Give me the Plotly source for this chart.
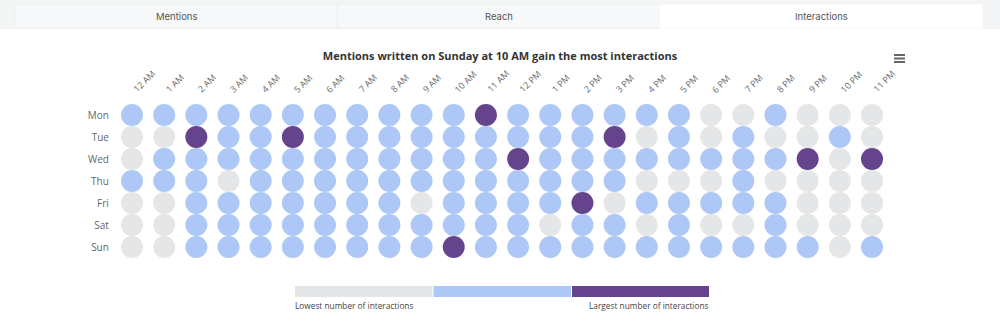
import plotly.graph_objects as go

# Heat-dot grid: interaction level per weekday and hour (0 = low, 1 = mid, 2 = high)
days = ["Mon", "Tue", "Wed", "Thu", "Fri", "Sat", "Sun"]
hours = ["12 AM", "1 AM", "2 AM", "3 AM", "4 AM", "5 AM", "6 AM", "7 AM", "8 AM",
         "9 AM", "10 AM", "11 AM", "12 PM", "1 PM", "2 PM", "3 PM", "4 PM", "5 PM",
         "6 PM", "7 PM", "8 PM", "9 PM", "10 PM", "11 PM"]

mon = [1, 1, 1, 1, 1, 1, 1, 1, 1, 1, 1, 2, 1, 1, 1, 1, 1, 1, 0, 0, 1, 0, 0, 0]
tue = [0, 0, 2, 1, 1, 2, 1, 1, 1, 1, 1, 1, 1, 1, 1, 2, 0, 1, 0, 1, 0, 0, 1, 0]
wed = [0, 1, 1, 1, 1, 1, 1, 1, 1, 1, 1, 1, 2, 1, 1, 1, 1, 1, 1, 1, 1, 2, 0, 2]
thu = [1, 1, 1, 0, 1, 1, 1, 1, 1, 1, 1, 1, 1, 1, 1, 1, 0, 0, 0, 1, 0, 0, 0, 0]
fri = [0, 0, 1, 1, 1, 1, 1, 1, 1, 0, 1, 1, 1, 1, 2, 0, 1, 1, 1, 1, 1, 0, 0, 0]
sat = [0, 0, 1, 1, 1, 1, 1, 1, 1, 1, 1, 1, 1, 0, 1, 1, 0, 1, 0, 0, 1, 0, 0, 0]
sun = [0, 0, 1, 1, 1, 1, 1, 1, 1, 1, 2, 1, 1, 1, 1, 1, 1, 1, 1, 1, 1, 1, 0, 1]
levels = [mon, tue, wed, thu, fri, sat, sun]

level_colors = ["#e4e6e8", "#adc8f6", "#65448d"]
legend_low = "Lowest number of interactions"
legend_high = "Largest number of interactions"
title_text = "Mentions written on Sunday at 10 AM gain the most interactions"
tabs = ["Mentions", "Reach", "Interactions"]

W, H = 1000, 325
FONT = "Open Sans, Liberation Sans, sans-serif"


def px(x):
    return x / W


def py(y):
    return 1 - y / H


xs, ys, cs = [], [], []
for di, row in enumerate(levels):
    for hi, lv in enumerate(row):
        xs.append(hours[hi])
        ys.append(days[di])
        cs.append(lv)

scale = [[0, level_colors[0]], [0.3333, level_colors[0]],
         [0.3334, level_colors[1]], [0.6666, level_colors[1]],
         [0.6667, level_colors[2]], [1, level_colors[2]]]

fig = go.Figure(go.Scatter(
    x=xs, y=ys, mode="markers",
    marker=dict(size=22, color=cs, cmin=0, cmax=2, colorscale=scale,
                line=dict(width=0)),
    hoverinfo="x+y", cliponaxis=False,
))

shapes = []
annotations = []

# tab strip
shapes.append(dict(type="rect", xref="paper", yref="paper", x0=0, x1=1,
                   y0=py(29), y1=1, fillcolor="#f4f5f6", line=dict(width=0), layer="below"))
tab_edges = [15, 337, 660, 982]
for i, name in enumerate(tabs):
    active = i == 2
    shapes.append(dict(type="rect", xref="paper", yref="paper",
                       x0=px(tab_edges[i]), x1=px(tab_edges[i + 1]),
                       y0=py(28), y1=py(5 if active else 4),
                       fillcolor="#ffffff" if active else "#f7f8f9",
                       line=dict(width=1, color="#eef0f1" if not active else "#ffffff"),
                       layer="below"))
    annotations.append(dict(text=name, xref="paper", yref="paper",
                            x=px((tab_edges[i] + tab_edges[i + 1]) / 2), y=py(16.5),
                            showarrow=False, xanchor="center", yanchor="middle",
                            font=dict(family="Inter, Roboto, sans-serif", size=9.5, color="#555")))

# hour labels, slanted above each column
for h in hours:
    annotations.append(dict(text=h, xref="x", yref="paper", x=h, y=py(98),
                            showarrow=False, textangle=-45, xanchor="left",
                            yanchor="bottom", xshift=-5,
                            font=dict(family=FONT, size=9, color="#6a6a6a")))

# menu icon
for yy in (55, 58.5, 62):
    shapes.append(dict(type="line", xref="paper", yref="paper",
                       x0=px(894), x1=px(905), y0=py(yy), y1=py(yy),
                       line=dict(color="#666", width=2)))

# legend bars
bar_edges = [(295, 432.5), (433.5, 571), (572, 709)]
for (a, b), col in zip(bar_edges, level_colors):
    shapes.append(dict(type="rect", xref="paper", yref="paper",
                       x0=px(a), x1=px(b), y0=py(297), y1=py(286),
                       fillcolor=col, line=dict(width=0)))
annotations.append(dict(text=legend_low, xref="paper", yref="paper", x=px(295), y=py(305),
                        showarrow=False, xanchor="left", yanchor="middle", xshift=-2,
                        font=dict(family=FONT, size=8.3, color="#444")))
annotations.append(dict(text=legend_high, xref="paper", yref="paper", x=px(709), y=py(305),
                        showarrow=False, xanchor="right", yanchor="middle", xshift=2,
                        font=dict(family=FONT, size=8.3, color="#444")))

fig.update_layout(
    width=W, height=H, margin=dict(l=0, r=0, t=0, b=0),
    paper_bgcolor="#ffffff", plot_bgcolor="#ffffff",
    showlegend=False,
    title=dict(text="<b>" + title_text + "</b>", x=0.5, xanchor="center",
               y=py(56), yanchor="middle",
               font=dict(family=FONT, size=11, color="#333")),
    xaxis=dict(type="category", categoryorder="array", categoryarray=hours,
               range=[-0.5, 23.5], domain=[px(115.9), px(888.1)],
               showticklabels=False, showgrid=False, zeroline=False,
               showline=False, ticks="", fixedrange=True),
    yaxis=dict(type="category", categoryorder="array", categoryarray=days,
               range=[6.5, -0.5], domain=[py(258), py(104)],
               showgrid=False, zeroline=False, showline=False, ticks="",
               ticklabelstandoff=6, fixedrange=True,
               tickfont=dict(family=FONT, size=10, color="#666")),
    shapes=shapes, annotations=annotations,
)

fig.write_html("out.html")
